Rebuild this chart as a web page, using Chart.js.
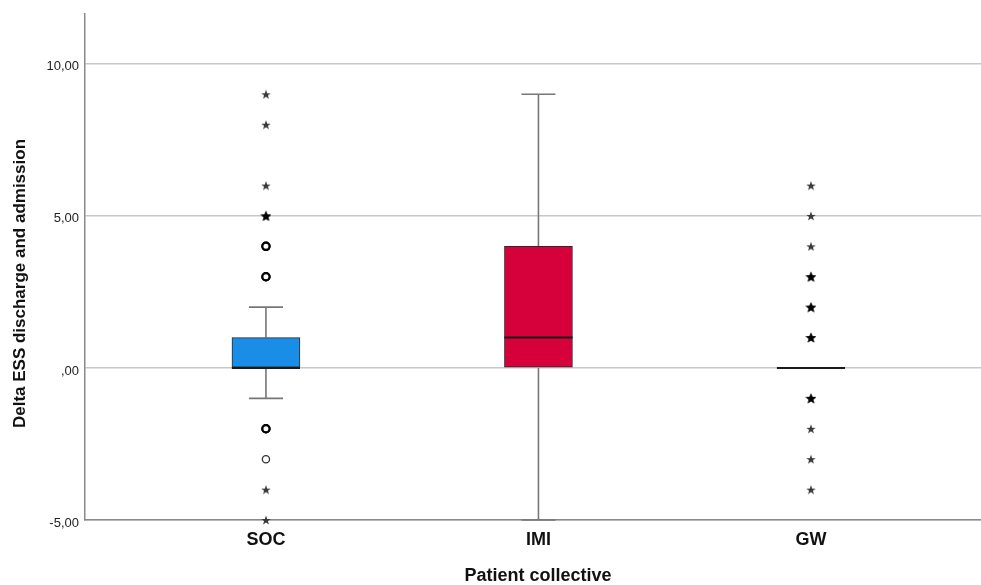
<!DOCTYPE html>
<html>
<head>
<meta charset="utf-8">
<script src="https://cdn.jsdelivr.net/npm/chart.js@4/dist/chart.umd.min.js"></script>
<style>
  body { margin: 0; background: #fff; }
  #wrap { width: 981px; height: 585px; }
</style>
</head>
<body>
<div id="wrap"><canvas id="boxChart"></canvas></div>
<script>
// boxplot values
const categories = ['SOC', 'IMI', 'GW'];
const q1 = [0, 0, 0];
const median = [0, 1, 0];
const q3 = [1, 4, 0];
const whiskerLow = [-1, -5, 0];
const whiskerHigh = [2, 9, 0];
// outliers (repeated values = several cases at the same spot)
const circleOutliers = [[3, 3, 4, 4, -2, -2, -3], [], []];
const starOutliers = [[5, 5, 6, 8, 9, -4, -5], [], [6, 5, 4, 3, 3, 2, 2, 1, 1, -1, -1, -2, -3, -4]];
const yTickValues = [-5, 0, 5, 10];
const yTickLabels = ['-5,00', ',00', '5,00', '10,00'];

const boxColors = ['#1a8ee6', '#d6003a', '#d6003a'];
const boxHalf = 0.125;   // in category units
const capHalf = 0.0625;

function countOf(arr, v) { return arr.filter(a => a === v).length; }

function makeStar(size, color) {
  const c = document.createElement('canvas');
  c.width = c.height = size;
  const g = c.getContext('2d');
  g.fillStyle = color;
  g.beginPath();
  for (let k = 0; k < 10; k++) {
    const r = k % 2 ? size * 0.2 : size * 0.5;
    const a = -Math.PI / 2 + k * Math.PI / 5;
    const px = size / 2 + r * Math.cos(a), py = size / 2 + 0.5 + r * Math.sin(a);
    k === 0 ? g.moveTo(px, py) : g.lineTo(px, py);
  }
  g.closePath();
  g.fill();
  return c;
}
const starThin = makeStar(10, '#3a3a3a');
const starBold = makeStar(11, '#000');

// whiskers + caps, broken with nulls
const whiskerData = [];
const medianData = [];
categories.forEach((c, i) => {
  const x = i + 1;
  if (whiskerHigh[i] > q3[i]) {
    whiskerData.push({x, y: q3[i]}, {x, y: whiskerHigh[i]}, {x, y: null});
    whiskerData.push({x: x - capHalf, y: whiskerHigh[i]}, {x: x + capHalf, y: whiskerHigh[i]}, {x, y: null});
  }
  if (whiskerLow[i] < q1[i]) {
    whiskerData.push({x, y: q1[i]}, {x, y: whiskerLow[i]}, {x, y: null});
    whiskerData.push({x: x - capHalf, y: whiskerLow[i]}, {x: x + capHalf, y: whiskerLow[i]}, {x, y: null});
  }
  medianData.push({x: x - boxHalf, y: median[i]}, {x: x + boxHalf, y: median[i]}, {x, y: null});
});

const circleData = [];
const starData = [];
categories.forEach((c, i) => {
  circleOutliers[i].forEach(v => circleData.push({x: i + 1, y: v, n: countOf(circleOutliers[i], v)}));
  starOutliers[i].forEach(v => starData.push({x: i + 1, y: v, n: countOf(starOutliers[i], v)}));
});

const ctx = document.getElementById('boxChart').getContext('2d');

new Chart(ctx, {
  data: {
    datasets: [
      {
        type: 'line',
        data: medianData,
        borderColor: '#1a1a1a',
        borderWidth: 2,
        pointRadius: 0,
        spanGaps: false,
        clip: false,
        order: 0
      },
      {
        type: 'bar',
        data: categories.map((c, i) => ({x: i + 1, y: [q1[i], q3[i]]})),
        backgroundColor: boxColors,
        borderColor: '#2a2a2a',
        borderWidth: 1,
        borderSkipped: false,
        barThickness: 68,
        order: 1
      },
      {
        type: 'line',
        data: whiskerData,
        borderColor: '#777',
        borderWidth: 1.6,
        pointRadius: 0,
        spanGaps: false,
        clip: false,
        order: 2
      },
      {
        type: 'scatter',
        data: circleData,
        pointStyle: 'circle',
        pointRadius: 3.6,
        backgroundColor: '#fff',
        borderColor: c => (c.raw && c.raw.n > 1) ? '#000' : '#333',
        borderWidth: c => (c.raw && c.raw.n > 1) ? 2.2 : 1.3,
        clip: false,
        order: 0
      },
      {
        type: 'scatter',
        data: starData,
        pointStyle: c => (c.raw && c.raw.n > 1) ? starBold : starThin,
        clip: false,
        order: 0
      }
    ]
  },
  options: {
    responsive: true,
    maintainAspectRatio: false,
    animation: false,
    layout: { autoPadding: false, padding: { top: 14, right: 0, left: 0, bottom: 0 } },
    plugins: {
      legend: { display: false },
      tooltip: { enabled: false }
    },
    scales: {
      x: {
        type: 'linear',
        offset: false,
        min: 0.336,
        max: 3.624,
        grid: { display: false, drawTicks: false, offset: false },
        border: { display: true, color: '#8a8a8a', width: 1.5 },
        afterBuildTicks: s => { s.ticks = categories.map((c, i) => ({value: i + 1})); },
        afterFit: s => { s.height = 65; },
        ticks: {
          padding: 9,
          autoSkip: false,
          maxRotation: 0,
          color: '#111',
          font: { family: 'Liberation Sans', size: 18, weight: 'bold' },
          callback: (v, i) => categories[i]
        },
        title: {
          display: true,
          text: '  Patient collective',
          color: '#111',
          padding: { top: 0, bottom: 0 },
          font: { family: 'Liberation Sans', size: 18, weight: 'bold', lineHeight: 1 }
        }
      },
      y: {
        type: 'linear',
        min: -5,
        max: 11.64,
        grid: { color: '#c8c8c8', lineWidth: 1.5, drawTicks: false },
        border: { display: true, color: '#8a8a8a', width: 1.5 },
        afterBuildTicks: s => { s.ticks = yTickValues.map(v => ({value: v})); },
        afterFit: s => { s.width = 85; },
        ticks: {
          padding: 6,
          labelOffset: 3,
          color: '#222',
          font: { family: 'Liberation Sans', size: 13 },
          callback: (v, i) => yTickLabels[i]
        },
        title: {
          display: true,
          text: 'Delta ESS discharge and admission       ',
          color: '#111',
          padding: { top: 10, bottom: 0 },
          font: { family: 'Liberation Sans', size: 17, weight: 'bold' }
        }
      }
    }
  }
});
</script>
</body>
</html>
